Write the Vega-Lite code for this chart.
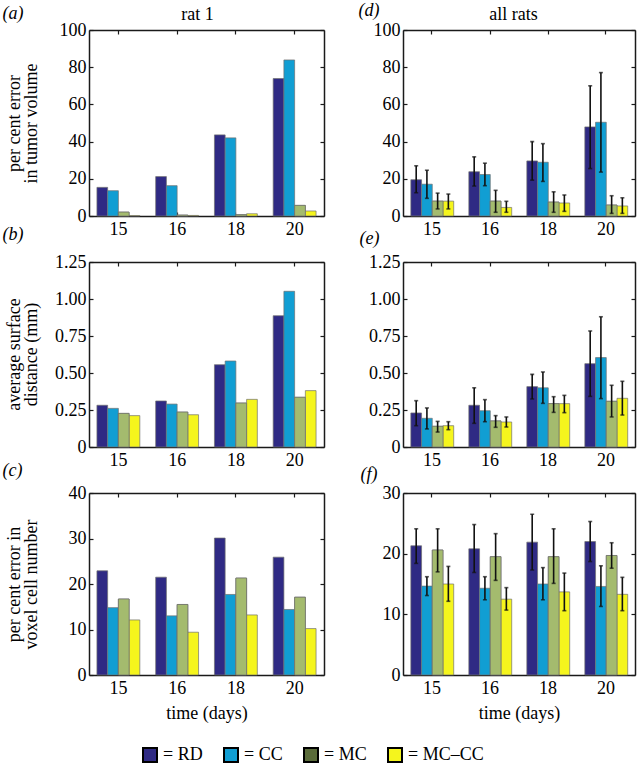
{
  "$schema": "https://vega.github.io/schema/vega-lite/v6.json",
  "padding": {"top": 1, "left": 2, "right": 4, "bottom": 0},
  "background": "white",
  "config": {
    "font": "Liberation Serif",
    "view": {"stroke": null},
    "axis": {
      "grid": false, "domain": true, "domainColor": "#1a1a1a", "domainWidth": 1.5,
      "ticks": true, "tickSize": -4, "tickColor": "#1a1a1a", "tickWidth": 1.2,
      "labelFont": "Liberation Serif", "labelFontSize": 18, "labelColor": "#000",
      "titleFont": "Liberation Serif", "titleFontSize": 18, "titleFontWeight": "normal",
      "titleColor": "#000", "titleLineHeight": 17, "zindex": 1
    },
    "axisX": {"labelPadding": 8},
    "axisY": {"labelPadding": 7},
    "legend": {"orient": "none", "legendX": 52, "legendY": 716, "direction": "horizontal", "title": null, "symbolType": "square", "symbolSize": 196, "symbolStrokeColor": "#000", "symbolStrokeWidth": 2, "symbolOpacity": 1, "labelFont": "Liberation Serif", "labelFontSize": 18, "labelColor": "#000", "labelOffset": 4, "columnPadding": 17, "padding": 0}
  },
  "datasets": {
    "a": [
      {"day": "15", "m": "RD", "v": 15.4}, {"day": "15", "m": "CC", "v": 13.6}, {"day": "15", "m": "MC", "v": 2.1}, {"day": "15", "m": "MC–CC", "v": 0.2},
      {"day": "16", "m": "RD", "v": 21.2}, {"day": "16", "m": "CC", "v": 16.3}, {"day": "16", "m": "MC", "v": 0.5}, {"day": "16", "m": "MC–CC", "v": 0.3},
      {"day": "18", "m": "RD", "v": 43.6}, {"day": "18", "m": "CC", "v": 42.0}, {"day": "18", "m": "MC", "v": 0.7}, {"day": "18", "m": "MC–CC", "v": 1.2},
      {"day": "20", "m": "RD", "v": 73.9}, {"day": "20", "m": "CC", "v": 83.9}, {"day": "20", "m": "MC", "v": 5.7}, {"day": "20", "m": "MC–CC", "v": 2.7}
    ],
    "b": [
      {"day": "15", "m": "RD", "v": 0.282}, {"day": "15", "m": "CC", "v": 0.261}, {"day": "15", "m": "MC", "v": 0.227}, {"day": "15", "m": "MC–CC", "v": 0.212},
      {"day": "16", "m": "RD", "v": 0.311}, {"day": "16", "m": "CC", "v": 0.290}, {"day": "16", "m": "MC", "v": 0.236}, {"day": "16", "m": "MC–CC", "v": 0.218},
      {"day": "18", "m": "RD", "v": 0.556}, {"day": "18", "m": "CC", "v": 0.581}, {"day": "18", "m": "MC", "v": 0.297}, {"day": "18", "m": "MC–CC", "v": 0.322},
      {"day": "20", "m": "RD", "v": 0.887}, {"day": "20", "m": "CC", "v": 1.052}, {"day": "20", "m": "MC", "v": 0.336}, {"day": "20", "m": "MC–CC", "v": 0.381}
    ],
    "c": [
      {"day": "15", "m": "RD", "v": 22.9}, {"day": "15", "m": "CC", "v": 14.8}, {"day": "15", "m": "MC", "v": 16.7}, {"day": "15", "m": "MC–CC", "v": 12.1},
      {"day": "16", "m": "RD", "v": 21.5}, {"day": "16", "m": "CC", "v": 13.0}, {"day": "16", "m": "MC", "v": 15.5}, {"day": "16", "m": "MC–CC", "v": 9.4},
      {"day": "18", "m": "RD", "v": 30.1}, {"day": "18", "m": "CC", "v": 17.7}, {"day": "18", "m": "MC", "v": 21.3}, {"day": "18", "m": "MC–CC", "v": 13.2},
      {"day": "20", "m": "RD", "v": 25.9}, {"day": "20", "m": "CC", "v": 14.4}, {"day": "20", "m": "MC", "v": 17.1}, {"day": "20", "m": "MC–CC", "v": 10.2}
    ],
    "d": [
      {"day": "15", "m": "RD", "v": 19.5, "lo": 12.5, "hi": 27.0}, {"day": "15", "m": "CC", "v": 17.1, "lo": 9.5, "hi": 24.6}, {"day": "15", "m": "MC", "v": 8.0, "lo": 3.8, "hi": 12.3}, {"day": "15", "m": "MC–CC", "v": 8.0, "lo": 3.8, "hi": 11.8},
      {"day": "16", "m": "RD", "v": 23.8, "lo": 16.1, "hi": 31.8}, {"day": "16", "m": "CC", "v": 22.3, "lo": 16.3, "hi": 28.4}, {"day": "16", "m": "MC", "v": 8.0, "lo": 2.0, "hi": 13.8}, {"day": "16", "m": "MC–CC", "v": 4.6, "lo": 2.0, "hi": 7.9},
      {"day": "18", "m": "RD", "v": 29.6, "lo": 19.3, "hi": 40.0}, {"day": "18", "m": "CC", "v": 28.9, "lo": 18.6, "hi": 38.9}, {"day": "18", "m": "MC", "v": 7.5, "lo": 2.0, "hi": 13.0}, {"day": "18", "m": "MC–CC", "v": 7.0, "lo": 2.5, "hi": 11.3},
      {"day": "20", "m": "RD", "v": 47.9, "lo": 25.5, "hi": 70.0}, {"day": "20", "m": "CC", "v": 50.4, "lo": 23.6, "hi": 77.1}, {"day": "20", "m": "MC", "v": 5.9, "lo": 1.4, "hi": 10.9}, {"day": "20", "m": "MC–CC", "v": 5.4, "lo": 1.4, "hi": 9.8}
    ],
    "e": [
      {"day": "15", "m": "RD", "v": 0.230, "lo": 0.144, "hi": 0.313}, {"day": "15", "m": "CC", "v": 0.194, "lo": 0.122, "hi": 0.264}, {"day": "15", "m": "MC", "v": 0.140, "lo": 0.101, "hi": 0.173}, {"day": "15", "m": "MC–CC", "v": 0.144, "lo": 0.117, "hi": 0.171},
      {"day": "16", "m": "RD", "v": 0.282, "lo": 0.160, "hi": 0.400}, {"day": "16", "m": "CC", "v": 0.245, "lo": 0.171, "hi": 0.320}, {"day": "16", "m": "MC", "v": 0.176, "lo": 0.133, "hi": 0.212}, {"day": "16", "m": "MC–CC", "v": 0.169, "lo": 0.135, "hi": 0.203},
      {"day": "18", "m": "RD", "v": 0.408, "lo": 0.324, "hi": 0.491}, {"day": "18", "m": "CC", "v": 0.400, "lo": 0.295, "hi": 0.507}, {"day": "18", "m": "MC", "v": 0.293, "lo": 0.234, "hi": 0.340}, {"day": "18", "m": "MC–CC", "v": 0.293, "lo": 0.232, "hi": 0.349},
      {"day": "20", "m": "RD", "v": 0.563, "lo": 0.342, "hi": 0.784}, {"day": "20", "m": "CC", "v": 0.604, "lo": 0.327, "hi": 0.880}, {"day": "20", "m": "MC", "v": 0.309, "lo": 0.203, "hi": 0.417}, {"day": "20", "m": "MC–CC", "v": 0.329, "lo": 0.216, "hi": 0.444}
    ],
    "f": [
      {"day": "15", "m": "RD", "v": 21.3, "lo": 18.4, "hi": 24.1}, {"day": "15", "m": "CC", "v": 14.65, "lo": 13.1, "hi": 16.2}, {"day": "15", "m": "MC", "v": 20.6, "lo": 17.0, "hi": 24.1}, {"day": "15", "m": "MC–CC", "v": 15.0, "lo": 12.15, "hi": 17.9},
      {"day": "16", "m": "RD", "v": 20.8, "lo": 16.9, "hi": 24.8}, {"day": "16", "m": "CC", "v": 14.3, "lo": 12.4, "hi": 16.2}, {"day": "16", "m": "MC", "v": 19.5, "lo": 15.6, "hi": 23.3}, {"day": "16", "m": "MC–CC", "v": 12.5, "lo": 10.7, "hi": 14.4},
      {"day": "18", "m": "RD", "v": 21.9, "lo": 17.3, "hi": 26.5}, {"day": "18", "m": "CC", "v": 15.0, "lo": 12.4, "hi": 17.7}, {"day": "18", "m": "MC", "v": 19.5, "lo": 15.1, "hi": 24.1}, {"day": "18", "m": "MC–CC", "v": 13.7, "lo": 10.6, "hi": 16.8},
      {"day": "20", "m": "RD", "v": 22.0, "lo": 18.7, "hi": 25.3}, {"day": "20", "m": "CC", "v": 14.6, "lo": 11.3, "hi": 18.0}, {"day": "20", "m": "MC", "v": 19.7, "lo": 17.6, "hi": 21.8}, {"day": "20", "m": "MC–CC", "v": 13.3, "lo": 10.6, "hi": 16.1}
    ]
  },
  "columns": 2,
  "bounds": "flush",
  "spacing": {"row": 46, "column": 79},
  "concat": [
    {
      "width": 235, "height": 186,
      "data": {"name": "a"},
      "layer": [
        {"mark": {"type": "bar", "stroke": "#707070", "strokeWidth": 0.7},
         "encoding": {
           "x": {"field": "day", "type": "ordinal", "scale": {"paddingInner": 0.27, "paddingOuter": 0.135}, "axis": {"orient": "bottom", "title": null, "labelAngle": 0}},
           "xOffset": {"field": "m", "type": "nominal", "sort": ["RD", "CC", "MC", "MC–CC"], "scale": {"paddingInner": 0, "paddingOuter": 0}},
           "y": {"field": "v", "type": "quantitative", "stack": null, "scale": {"domain": [0, 100], "nice": false}, "axis": {"orient": "left", "values": [0, 20, 40, 60, 80, 100], "title": ["per cent error", "in tumor volume"], "titleX": -66, "titleY": 93}},
           "color": {"field": "m", "type": "nominal", "sort": ["RD", "CC", "MC", "MC–CC"], "scale": {"domain": ["RD", "CC", "MC", "MC–CC"], "range": ["#2f2a84", "#119ed3", "#5a6b3a", "#f5f51d"]}, "legend": {"labelExpr": "'= ' + datum.label"}}
         }},
        {"transform": [{"filter": "datum.m === 'MC'"}],
         "mark": {"type": "bar", "color": "#a4bb6e", "stroke": "#707070", "strokeWidth": 0.7},
         "encoding": {
           "x": {"field": "day", "type": "ordinal", "axis": null},
           "xOffset": {"field": "m", "type": "nominal", "sort": ["RD", "CC", "MC", "MC–CC"]},
           "y": {"field": "v", "type": "quantitative", "stack": null, "axis": null}
         }},
        {"mark": {"type": "bar", "opacity": 0},
         "encoding": {
           "x": {"field": "day", "type": "ordinal", "axis": {"orient": "top", "labels": false, "title": "rat 1", "titleX": 108, "titleY": -11, "titleBaseline": "alphabetic", "titleAngle": 0}},
           "y": {"field": "v", "type": "quantitative", "stack": null, "axis": {"orient": "right", "labels": false, "values": [0, 20, 40, 60, 80, 100], "title": "(a)", "titleX": -322, "titleY": -12, "titleAngle": 0, "titleAlign": "left", "titleBaseline": "alphabetic", "titleFontStyle": "italic"}}
         }}
      ]
    },
    {
      "width": 232, "height": 186,
      "data": {"name": "d"},
      "layer": [
        {"mark": {"type": "bar", "stroke": "#707070", "strokeWidth": 0.7},
         "encoding": {
           "x": {"field": "day", "type": "ordinal", "scale": {"paddingInner": 0.27, "paddingOuter": 0.135}, "axis": {"orient": "bottom", "title": null, "labelAngle": 0}},
           "xOffset": {"field": "m", "type": "nominal", "sort": ["RD", "CC", "MC", "MC–CC"], "scale": {"paddingInner": 0, "paddingOuter": 0}},
           "y": {"field": "v", "type": "quantitative", "stack": null, "scale": {"domain": [0, 100], "nice": false}, "axis": {"orient": "left", "values": [0, 20, 40, 60, 80, 100], "title": "(d)", "titleX": -45, "titleY": -15, "titleAngle": 0, "titleAlign": "left", "titleBaseline": "alphabetic", "titleFontStyle": "italic"}},
           "color": {"field": "m", "type": "nominal", "sort": ["RD", "CC", "MC", "MC–CC"], "scale": {"domain": ["RD", "CC", "MC", "MC–CC"], "range": ["#2f2a84", "#119ed3", "#5a6b3a", "#f5f51d"]}, "legend": {"labelExpr": "'= ' + datum.label"}}
         }},
        {"transform": [{"filter": "datum.m === 'MC'"}],
         "mark": {"type": "bar", "color": "#a4bb6e", "stroke": "#707070", "strokeWidth": 0.7},
         "encoding": {
           "x": {"field": "day", "type": "ordinal", "axis": null},
           "xOffset": {"field": "m", "type": "nominal", "sort": ["RD", "CC", "MC", "MC–CC"]},
           "y": {"field": "v", "type": "quantitative", "stack": null, "axis": null}
         }},
        {"mark": {"type": "bar", "opacity": 0},
         "encoding": {
           "x": {"field": "day", "type": "ordinal", "axis": {"orient": "top", "labels": false, "title": "all rats", "titleX": 110, "titleY": -11, "titleBaseline": "alphabetic", "titleAngle": 0}},
           "y": {"field": "v", "type": "quantitative", "stack": null, "axis": {"orient": "right", "labels": false, "title": null, "values": [0, 20, 40, 60, 80, 100]}}
         }},
        {"mark": {"type": "rule", "color": "#111", "strokeWidth": 1.6},
         "encoding": {
           "x": {"field": "day", "type": "ordinal", "axis": null},
           "xOffset": {"field": "m", "type": "nominal", "sort": ["RD", "CC", "MC", "MC–CC"]},
           "y": {"field": "lo", "type": "quantitative", "axis": null}, "y2": {"field": "hi"}
         }},
        {"mark": {"type": "tick", "color": "#111", "thickness": 1.6, "size": 4},
         "encoding": {
           "x": {"field": "day", "type": "ordinal", "axis": null},
           "xOffset": {"field": "m", "type": "nominal", "sort": ["RD", "CC", "MC", "MC–CC"]},
           "y": {"field": "lo", "type": "quantitative", "axis": null}
         }},
        {"mark": {"type": "tick", "color": "#111", "thickness": 1.6, "size": 4},
         "encoding": {
           "x": {"field": "day", "type": "ordinal", "axis": null},
           "xOffset": {"field": "m", "type": "nominal", "sort": ["RD", "CC", "MC", "MC–CC"]},
           "y": {"field": "hi", "type": "quantitative", "axis": null}
         }}
      ]
    },
    {
      "width": 235, "height": 185,
      "data": {"name": "b"},
      "layer": [
        {"mark": {"type": "bar", "stroke": "#707070", "strokeWidth": 0.7},
         "encoding": {
           "x": {"field": "day", "type": "ordinal", "scale": {"paddingInner": 0.27, "paddingOuter": 0.135}, "axis": {"orient": "bottom", "title": null, "labelAngle": 0}},
           "xOffset": {"field": "m", "type": "nominal", "sort": ["RD", "CC", "MC", "MC–CC"], "scale": {"paddingInner": 0, "paddingOuter": 0}},
           "y": {"field": "v", "type": "quantitative", "stack": null, "scale": {"domain": [0, 1.25], "nice": false}, "axis": {"orient": "left", "values": [0, 0.25, 0.5, 0.75, 1, 1.25], "labelExpr": "datum.value === 0 ? '0' : format(datum.value, '.2f')", "title": ["average surface", "distance (mm)"], "titleX": -66, "titleY": 92}},
           "color": {"field": "m", "type": "nominal", "sort": ["RD", "CC", "MC", "MC–CC"], "scale": {"domain": ["RD", "CC", "MC", "MC–CC"], "range": ["#2f2a84", "#119ed3", "#5a6b3a", "#f5f51d"]}, "legend": {"labelExpr": "'= ' + datum.label"}}
         }},
        {"transform": [{"filter": "datum.m === 'MC'"}],
         "mark": {"type": "bar", "color": "#a4bb6e", "stroke": "#707070", "strokeWidth": 0.7},
         "encoding": {
           "x": {"field": "day", "type": "ordinal", "axis": null},
           "xOffset": {"field": "m", "type": "nominal", "sort": ["RD", "CC", "MC", "MC–CC"]},
           "y": {"field": "v", "type": "quantitative", "stack": null, "axis": null}
         }},
        {"mark": {"type": "bar", "opacity": 0},
         "encoding": {
           "x": {"field": "day", "type": "ordinal", "axis": {"orient": "top", "labels": false, "title": "(b)", "titleX": -87, "titleY": -23, "titleAngle": 0, "titleAlign": "left", "titleBaseline": "alphabetic", "titleFontStyle": "italic"}},
           "y": {"field": "v", "type": "quantitative", "stack": null, "axis": {"orient": "right", "labels": false, "title": null, "values": [0, 0.25, 0.5, 0.75, 1, 1.25]}}
         }}
      ]
    },
    {
      "width": 232, "height": 185,
      "data": {"name": "e"},
      "layer": [
        {"mark": {"type": "bar", "stroke": "#707070", "strokeWidth": 0.7},
         "encoding": {
           "x": {"field": "day", "type": "ordinal", "scale": {"paddingInner": 0.27, "paddingOuter": 0.135}, "axis": {"orient": "bottom", "title": null, "labelAngle": 0}},
           "xOffset": {"field": "m", "type": "nominal", "sort": ["RD", "CC", "MC", "MC–CC"], "scale": {"paddingInner": 0, "paddingOuter": 0}},
           "y": {"field": "v", "type": "quantitative", "stack": null, "scale": {"domain": [0, 1.25], "nice": false}, "axis": {"orient": "left", "values": [0, 0.25, 0.5, 0.75, 1, 1.25], "labelExpr": "datum.value === 0 ? '0' : format(datum.value, '.2f')", "title": "(e)", "titleX": -44, "titleY": -19, "titleAngle": 0, "titleAlign": "left", "titleBaseline": "alphabetic", "titleFontStyle": "italic"}},
           "color": {"field": "m", "type": "nominal", "sort": ["RD", "CC", "MC", "MC–CC"], "scale": {"domain": ["RD", "CC", "MC", "MC–CC"], "range": ["#2f2a84", "#119ed3", "#5a6b3a", "#f5f51d"]}, "legend": {"labelExpr": "'= ' + datum.label"}}
         }},
        {"transform": [{"filter": "datum.m === 'MC'"}],
         "mark": {"type": "bar", "color": "#a4bb6e", "stroke": "#707070", "strokeWidth": 0.7},
         "encoding": {
           "x": {"field": "day", "type": "ordinal", "axis": null},
           "xOffset": {"field": "m", "type": "nominal", "sort": ["RD", "CC", "MC", "MC–CC"]},
           "y": {"field": "v", "type": "quantitative", "stack": null, "axis": null}
         }},
        {"mark": {"type": "bar", "opacity": 0},
         "encoding": {
           "x": {"field": "day", "type": "ordinal", "axis": {"orient": "top", "labels": false, "title": null}},
           "y": {"field": "v", "type": "quantitative", "stack": null, "axis": {"orient": "right", "labels": false, "title": null, "values": [0, 0.25, 0.5, 0.75, 1, 1.25]}}
         }},
        {"mark": {"type": "rule", "color": "#111", "strokeWidth": 1.6},
         "encoding": {
           "x": {"field": "day", "type": "ordinal", "axis": null},
           "xOffset": {"field": "m", "type": "nominal", "sort": ["RD", "CC", "MC", "MC–CC"]},
           "y": {"field": "lo", "type": "quantitative", "axis": null}, "y2": {"field": "hi"}
         }},
        {"mark": {"type": "tick", "color": "#111", "thickness": 1.6, "size": 4},
         "encoding": {
           "x": {"field": "day", "type": "ordinal", "axis": null},
           "xOffset": {"field": "m", "type": "nominal", "sort": ["RD", "CC", "MC", "MC–CC"]},
           "y": {"field": "lo", "type": "quantitative", "axis": null}
         }},
        {"mark": {"type": "tick", "color": "#111", "thickness": 1.6, "size": 4},
         "encoding": {
           "x": {"field": "day", "type": "ordinal", "axis": null},
           "xOffset": {"field": "m", "type": "nominal", "sort": ["RD", "CC", "MC", "MC–CC"]},
           "y": {"field": "hi", "type": "quantitative", "axis": null}
         }}
      ]
    },
    {
      "width": 235, "height": 182,
      "data": {"name": "c"},
      "layer": [
        {"mark": {"type": "bar", "stroke": "#707070", "strokeWidth": 0.7},
         "encoding": {
           "x": {"field": "day", "type": "ordinal", "scale": {"paddingInner": 0.27, "paddingOuter": 0.135}, "axis": {"orient": "bottom", "title": "time (days)", "labelAngle": 0, "titleX": 117.5, "titleY": 43, "titleBaseline": "alphabetic"}},
           "xOffset": {"field": "m", "type": "nominal", "sort": ["RD", "CC", "MC", "MC–CC"], "scale": {"paddingInner": 0, "paddingOuter": 0}},
           "y": {"field": "v", "type": "quantitative", "stack": null, "scale": {"domain": [0, 40], "nice": false}, "axis": {"orient": "left", "values": [0, 10, 20, 30, 40], "title": ["per cent error in", "voxel cell number"], "titleX": -66, "titleY": 91}},
           "color": {"field": "m", "type": "nominal", "sort": ["RD", "CC", "MC", "MC–CC"], "scale": {"domain": ["RD", "CC", "MC", "MC–CC"], "range": ["#2f2a84", "#119ed3", "#5a6b3a", "#f5f51d"]}, "legend": {"labelExpr": "'= ' + datum.label"}}
         }},
        {"transform": [{"filter": "datum.m === 'MC'"}],
         "mark": {"type": "bar", "color": "#a4bb6e", "stroke": "#707070", "strokeWidth": 0.7},
         "encoding": {
           "x": {"field": "day", "type": "ordinal", "axis": null},
           "xOffset": {"field": "m", "type": "nominal", "sort": ["RD", "CC", "MC", "MC–CC"]},
           "y": {"field": "v", "type": "quantitative", "stack": null, "axis": null}
         }},
        {"mark": {"type": "bar", "opacity": 0},
         "encoding": {
           "x": {"field": "day", "type": "ordinal", "axis": {"orient": "top", "labels": false, "title": "(c)", "titleX": -87, "titleY": -18, "titleAngle": 0, "titleAlign": "left", "titleBaseline": "alphabetic", "titleFontStyle": "italic"}},
           "y": {"field": "v", "type": "quantitative", "stack": null, "axis": {"orient": "right", "labels": false, "title": null, "values": [0, 10, 20, 30, 40]}}
         }}
      ]
    },
    {
      "width": 232, "height": 182,
      "data": {"name": "f"},
      "layer": [
        {"mark": {"type": "bar", "stroke": "#707070", "strokeWidth": 0.7},
         "encoding": {
           "x": {"field": "day", "type": "ordinal", "scale": {"paddingInner": 0.27, "paddingOuter": 0.135}, "axis": {"orient": "bottom", "title": "time (days)", "labelAngle": 0, "titleX": 116, "titleY": 43, "titleBaseline": "alphabetic"}},
           "xOffset": {"field": "m", "type": "nominal", "sort": ["RD", "CC", "MC", "MC–CC"], "scale": {"paddingInner": 0, "paddingOuter": 0}},
           "y": {"field": "v", "type": "quantitative", "stack": null, "scale": {"domain": [0, 30], "nice": false}, "axis": {"orient": "left", "values": [0, 10, 20, 30], "title": "(f)", "titleX": -43, "titleY": -14, "titleAngle": 0, "titleAlign": "left", "titleBaseline": "alphabetic", "titleFontStyle": "italic"}},
           "color": {"field": "m", "type": "nominal", "sort": ["RD", "CC", "MC", "MC–CC"], "scale": {"domain": ["RD", "CC", "MC", "MC–CC"], "range": ["#2f2a84", "#119ed3", "#5a6b3a", "#f5f51d"]}, "legend": {"labelExpr": "'= ' + datum.label"}}
         }},
        {"transform": [{"filter": "datum.m === 'MC'"}],
         "mark": {"type": "bar", "color": "#a4bb6e", "stroke": "#707070", "strokeWidth": 0.7},
         "encoding": {
           "x": {"field": "day", "type": "ordinal", "axis": null},
           "xOffset": {"field": "m", "type": "nominal", "sort": ["RD", "CC", "MC", "MC–CC"]},
           "y": {"field": "v", "type": "quantitative", "stack": null, "axis": null}
         }},
        {"mark": {"type": "bar", "opacity": 0},
         "encoding": {
           "x": {"field": "day", "type": "ordinal", "axis": {"orient": "top", "labels": false, "title": null}},
           "y": {"field": "v", "type": "quantitative", "stack": null, "axis": {"orient": "right", "labels": false, "title": null, "values": [0, 10, 20, 30]}}
         }},
        {"mark": {"type": "rule", "color": "#111", "strokeWidth": 1.6},
         "encoding": {
           "x": {"field": "day", "type": "ordinal", "axis": null},
           "xOffset": {"field": "m", "type": "nominal", "sort": ["RD", "CC", "MC", "MC–CC"]},
           "y": {"field": "lo", "type": "quantitative", "axis": null}, "y2": {"field": "hi"}
         }},
        {"mark": {"type": "tick", "color": "#111", "thickness": 1.6, "size": 4},
         "encoding": {
           "x": {"field": "day", "type": "ordinal", "axis": null},
           "xOffset": {"field": "m", "type": "nominal", "sort": ["RD", "CC", "MC", "MC–CC"]},
           "y": {"field": "lo", "type": "quantitative", "axis": null}
         }},
        {"mark": {"type": "tick", "color": "#111", "thickness": 1.6, "size": 4},
         "encoding": {
           "x": {"field": "day", "type": "ordinal", "axis": null},
           "xOffset": {"field": "m", "type": "nominal", "sort": ["RD", "CC", "MC", "MC–CC"]},
           "y": {"field": "hi", "type": "quantitative", "axis": null}
         }}
      ]
    }
  ]
}
